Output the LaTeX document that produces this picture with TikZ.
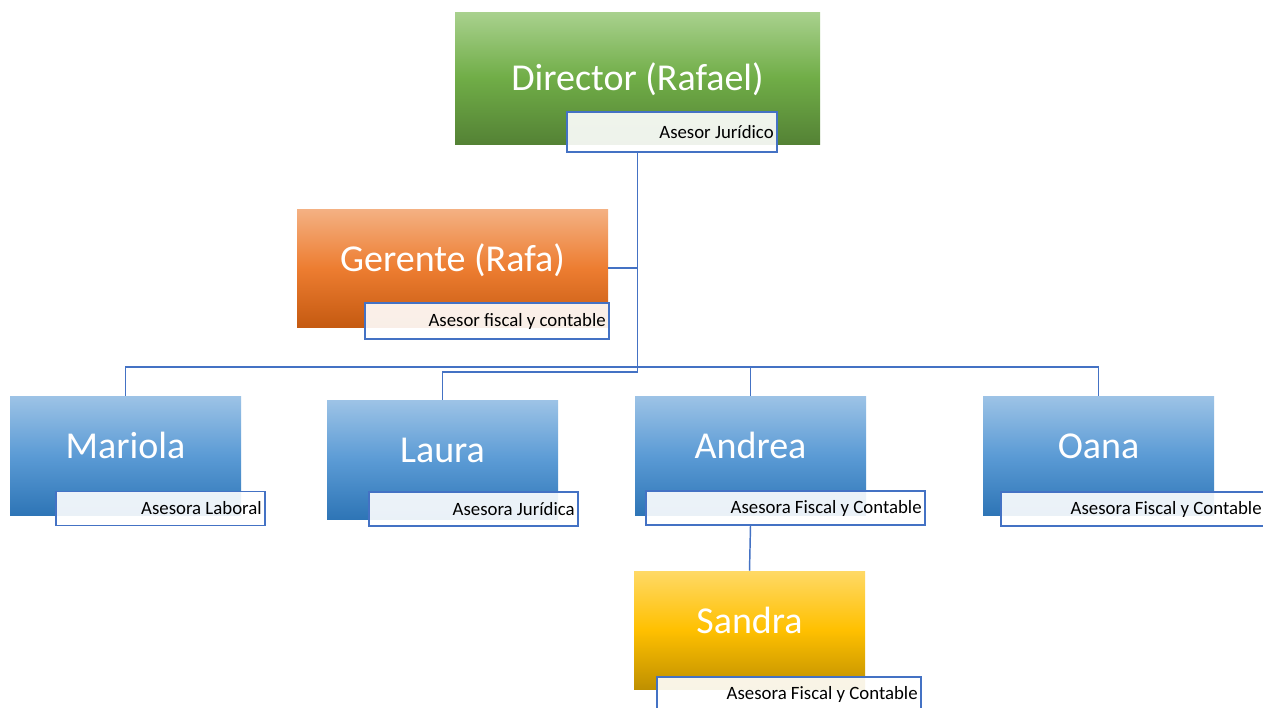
\documentclass[tikz,border=0pt]{standalone}
\usepackage{fontspec}
\setmainfont{Carlito}
\usetikzlibrary{positioning}

\definecolor{linea}{RGB}{68,114,196}
\definecolor{verdeA}{RGB}{169,209,142}
\definecolor{verdeB}{RGB}{112,173,71}
\definecolor{verdeC}{RGB}{84,130,53}
\definecolor{naranjaA}{RGB}{244,177,131}
\definecolor{naranjaB}{RGB}{237,125,49}
\definecolor{naranjaC}{RGB}{197,90,17}
\definecolor{azulA}{RGB}{157,195,230}
\definecolor{azulB}{RGB}{91,155,213}
\definecolor{azulC}{RGB}{46,117,182}
\definecolor{amarilloA}{RGB}{255,217,102}
\definecolor{amarilloB}{RGB}{255,192,0}
\definecolor{amarilloC}{RGB}{191,144,0}

\begin{document}
\begin{tikzpicture}[x=0.75pt,y=-0.75pt,
    persona/.style={
    % The shape:
    rectangle,
    minimum width=173.25pt,minimum height=89.25pt,
    % The rest
    inner sep=0pt,text=white,
    text height=20pt,text depth=15pt,
    font=\fontsize{28.5}{34}\selectfont},
    verde/.style={top color=verdeA,bottom color=verdeC,middle color=verdeB},
    naranja/.style={top color=naranjaA,bottom color=naranjaC,middle color=naranjaB},
    azul/.style={top color=azulA,bottom color=azulC,middle color=azulB},
    amarillo/.style={top color=amarilloA,bottom color=amarilloC,middle color=amarilloB},
    cargo/.style={
    rectangle,draw=linea,line width=0.8pt,
    fill=white,fill opacity=0.9,text opacity=1,
    inner xsep=2.5pt,inner ysep=0pt,minimum height=25.5pt,
    align=flush right,text=black,
    font=\fontsize{14.1}{17}\selectfont},
    conector/.style={draw=linea,line width=1.1pt}]
    \clip (0,0) rectangle (1263,707);
    \fill[white] (0,0) rectangle (1263,707);
    % boxes
    \node (dir) [persona,verde,minimum width=273.75pt,minimum height=99pt,
        text height=22pt,text depth=3.6pt] at (637.5,78) {Director (Rafael)};
    \node (ger) [persona,naranja,minimum width=233.25pt,minimum height=88.5pt] at (452.5,268) {Gerente (Rafa)};
    \node (mar) [persona,azul] at (125.5,455.5) {Mariola};
    \node (lau) [persona,azul] at (442.5,459.5) {Laura};
    \node (and) [persona,azul] at (750.5,455.5) {Andrea};
    \node (oan) [persona,azul] at (1098.5,455.5) {Oana};
    \node (san) [persona,amarillo,minimum height=88.5pt] at (749.5,630) {Sandra};
    % job tags
    \node (dirTag) [cargo,text width=152.5pt,minimum height=30pt] at (672,132) {Asesor Jurídico};
    \node (gerTag) [cargo,text width=178pt,minimum height=27pt] at (487,321) {Asesor fiscal y contable};
    \node (marTag) [cargo,text width=151.75pt] at (160.5,508.5) {Asesora Laboral};
    \node (lauTag) [cargo,text width=151.75pt] at (473.5,509) {Asesora Jurídica};
    \node (andTag) [cargo,text width=204.25pt] at (785.5,508) {Asesora Fiscal y Contable};
    \node (oanTag) [cargo,text width=193pt] at (1133,509) {Asesora Fiscal y Contable};
    \node (sanTag) [cargo,text width=193pt] at (789,694) {Asesora Fiscal y Contable};
    % connectors
    \coordinate (codo) at (637.5,372);
    \coordinate (bus) at (637.5,367);
    \draw[conector] (dir.south |- dirTag.south) -- (codo) -| (lau.north);
    \draw[conector] (ger.east) -- (ger.east -| codo);
    \draw[conector] (mar.north) |- (bus) -| (oan.north);
    \draw[conector] (and.north) -- (and.north |- bus);
    \draw[conector] (and.south |- andTag.south) -- (san.north);
\end{tikzpicture}
\end{document}
